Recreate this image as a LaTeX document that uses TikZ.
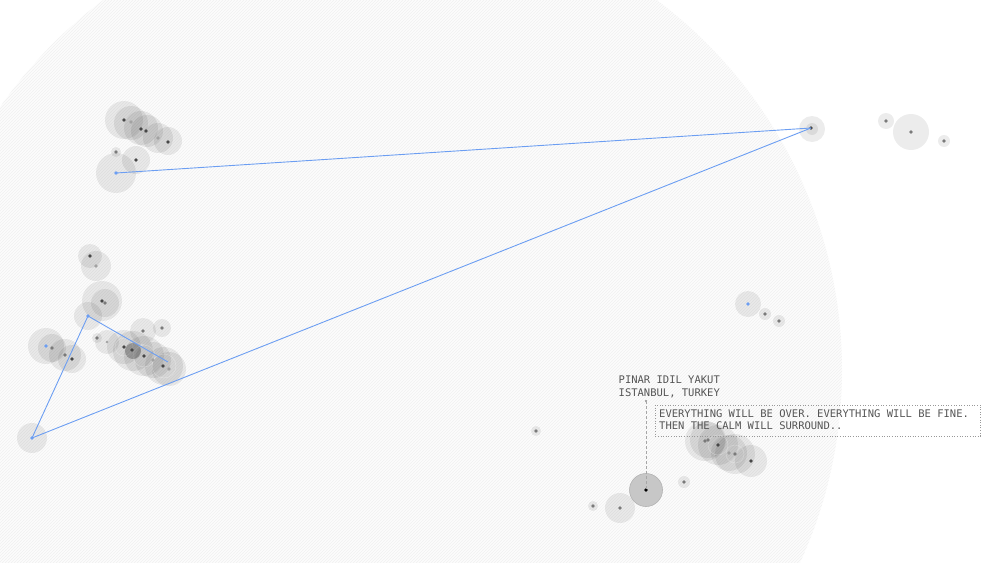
\documentclass[tikz,border=0pt]{standalone}
\usepackage{fontspec}
\newfontfamily\monof{DejaVu Sans Mono}
\usetikzlibrary{patterns}
\definecolor{dotg}{HTML}{7A7A7A}
\definecolor{dotd}{HTML}{474747}
\definecolor{dotl}{HTML}{A2A2A2}
\definecolor{linkblue}{HTML}{6C9EF2}
\definecolor{txtgray}{HTML}{555555}
\definecolor{bgfill}{HTML}{FCFCFC}
\definecolor{hatch}{HTML}{F1F1F1}
\tikzset{
  halo/.style={fill=black, fill opacity=0.075},
  ring/.style={draw=white, draw opacity=0.3, line width=0.5pt, fill=none},
  dot/.style={circle, fill=dotg, inner sep=0pt, minimum size=3.6pt},
  dotdark/.style={dot, fill=dotd},
  dotlight/.style={dot, fill=dotl},
  dotblue/.style={dot, fill=linkblue},
  link/.style={draw=linkblue, line width=0.9pt},
  labeltext/.style={font=\monof\fontsize{10.5}{12.4}\selectfont, text=txtgray, inner sep=0pt, align=left},
  frame/.style={draw=black!40, dotted, line width=0.6pt, inner sep=0pt, minimum width=325pt, minimum height=31pt},
  leader/.style={draw=black!35, dashed, dash pattern=on 3pt off 2pt, line width=0.8pt},
  hilite/.style={fill=black!22, draw=black!30, line width=0.6pt}
}
\begin{document}
\begin{tikzpicture}[x=1pt,y=-1pt]
\useasboundingbox (0,0) rectangle (1000,562);
\begin{scope}
\clip (0,0) rectangle (1000,562);
\fill[bgfill] (380,370) circle[radius=462pt];
\fill[pattern=north east lines, pattern color=hatch] (380,370) circle[radius=462pt];
\end{scope}

% ---------- halos: top-left cluster
\foreach \x/\y/\r in {124/120/19, 131/123/17, 141/128/17, 147/131/16, 158/138/15, 168/141/14,
                      116/152/5, 136/160/14, 116/173/20}
  \fill[halo] (\x,\y) circle[radius=\r pt];
% ---------- halos: left cluster
\foreach \x/\y/\r in {90/256/12, 96/266/15, 102/301/20, 105/303/14, 88/316/14,
                      46/346/18, 52/348/14, 65/355/16, 72/359/14, 32/438/15}
  \fill[halo] (\x,\y) circle[radius=\r pt];
% ---------- halos: middle cluster
\foreach \x/\y/\r in {97/338/5, 107/342/12, 124/347/17, 133/351/20, 144/356/20,
                      153/360/18, 164/366/19, 169/369/17, 143/331/13, 162/328/9}
  \fill[halo] (\x,\y) circle[radius=\r pt];
\foreach \x/\y/\r in {124/347/9, 144/356/11, 164/366/12}
  \draw[ring] (\x,\y) circle[radius=\r pt];
\fill[black, fill opacity=0.25] (133,351) circle[radius=8pt];
% ---------- halos: right
\foreach \x/\y/\r in {812/129/13, 812/129/6, 886/121/8, 911/132/18, 944/141/6,
                      748/304/13, 765/314/6, 779/321/6}
  \fill[halo] (\x,\y) circle[radius=\r pt];
% ---------- halos: bottom right
\foreach \x/\y/\r in {705/441/20, 708/440/18, 718/445/20, 729/453/18, 735/454/20, 751/461/16,
                      620/508/15, 593/506/5, 684/482/6, 536/431/5}
  \fill[halo] (\x,\y) circle[radius=\r pt];
\foreach \x/\y/\r in {718/445/10, 735/454/9}
  \draw[ring] (\x,\y) circle[radius=\r pt];
\fill[hilite] (646,490) circle[radius=16.5pt];

% ---------- dots
% top-left
\node[dotdark]  (a1) at (124,120) {};
\node[dotlight] (a2) at (131,122) {};
\node[dotdark]  (a3) at (141,129) {};
\node[dotdark]  (a4) at (146,131) {};
\node[dotlight] (a5) at (158,138) {};
\node[dotdark]  (a6) at (168,142) {};
\node[dot]      (a7) at (116,152) {};
\node[dotdark]  (a8) at (136,160) {};
\node[dotblue]  (tl) at (116,173) {};
% left
\node[dotdark]  (b1) at (90,256) {};
\node[dotlight] (b2) at (96,266) {};
\node[dotdark]  (b3) at (102,301) {};
\node[dot]      (b4) at (105,303) {};
\node[dotblue]  (ml) at (88,316) {};
\node[dotblue]  (b5) at (46,346) {};
\node[dot]      (b6) at (52,348) {};
\node[dot]      (b7) at (65,355) {};
\node[dotdark]  (b8) at (72,359) {};
\node[dotblue]  (bl) at (32,438) {};
% middle
\node[dot]      (c1) at (97,338) {};
\node[dotlight, minimum size=2.6pt] (c2) at (107,342) {};
\node[dotdark]  (c3) at (124,347) {};
\node[dotdark]  (c4) at (132,350) {};
\node[dotdark]  (c5) at (144,356) {};
\node[dotlight] (c6) at (153,360) {};
\node[dotdark]  (c7) at (163,366) {};
\node[dotlight] (c8) at (169,369) {};
\node[dot]      (c9) at (143,331) {};
\node[dot]      (c10) at (162,328) {};
\coordinate (mend) at (168,362);
% right
\node[dotdark]  (tr) at (811,128) {};
\node[dot]      (d2) at (886,121) {};
\node[dot]      (d3) at (911,132) {};
\node[dot]      (d4) at (944,141) {};
\node[dotblue]  (d5) at (748,304) {};
\node[dot]      (d6) at (765,314) {};
\node[dot]      (d7) at (779,321) {};
% bottom right
\node[dot]      (e1) at (705,441) {};
\node[dot]      (e2) at (708,440) {};
\node[dotdark]  (e3) at (718,445) {};
\node[dotlight] (e4) at (729,453) {};
\node[dot]      (e5) at (735,454) {};
\node[dotdark]  (e6) at (751,461) {};
\node[dot]      (e7) at (620,508) {};
\node[dot]      (e8) at (593,506) {};
\node[dot]      (e9) at (684,482) {};
\node[dot]      (e10) at (536,431) {};
\node[dot, fill=black] (hl) at (646,490) {};

% ---------- links
\draw[link] (tl.center) -- (tr.center);
\draw[link] (tr.center) -- (bl.center);
\draw[link] (bl.center) -- (ml.center);
\draw[link] (ml.center) -- (mend);

% ---------- label
\node[dot, minimum size=2.4pt, fill=black!45] (pin) at (646,401) {};
\draw[leader] (pin.center) -- (hl.center);
\node[labeltext, anchor=base west] (name) at (618.5,396.2) {PINAR IDIL YAKUT\\ISTANBUL, TURKEY};
\node[frame, anchor=north west] (qframe) at (655,404.5) {};
\node[labeltext, anchor=base west] (quote) at (659,429.5)
  {EVERYTHING WILL BE OVER. EVERYTHING WILL BE FINE.\\THEN THE CALM WILL SURROUND..};
\end{tikzpicture}
\end{document}
